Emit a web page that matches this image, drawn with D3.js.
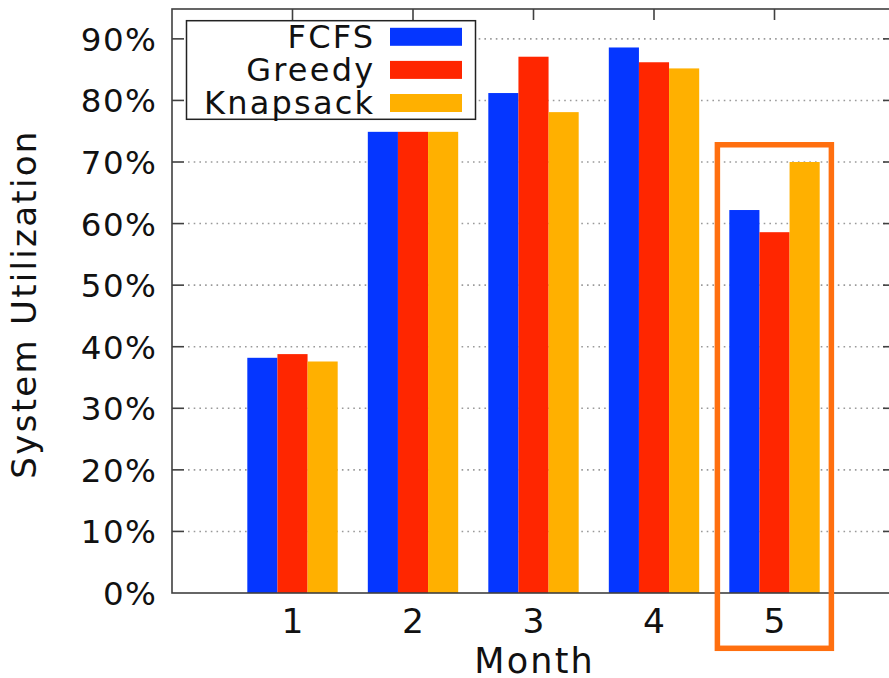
<!DOCTYPE html>
<html>
<head>
<meta charset="utf-8">
<script src="https://cdn.jsdelivr.net/npm/d3@7"></script>
<style>
  html, body { margin: 0; padding: 0; background: #fff; }
  svg { display: block; font-family: "DejaVu Sans", sans-serif; }
</style>
</head>
<body>
<svg id="chart" width="889" height="678"></svg>
<script>
// Monthly system utilization (%) per scheduling policy
const months = [1, 2, 3, 4, 5];
const seriesNames = ["FCFS", "Greedy", "Knapsack"];
const fcfs = [38.2, 74.9, 81.2, 88.6, 62.2];
const greedy = [38.8, 74.9, 87.1, 86.2, 58.6];
const knapsack = [37.6, 74.9, 78.1, 85.2, 70.0];
const yTicks = [0, 10, 20, 30, 40, 50, 60, 70, 80, 90];
const colors = ["#0536ff", "#ff2600", "#ffb000"];
const highlightMonth = 5;

const series = [fcfs, greedy, knapsack];

const svg = d3.select("#chart");
const plotL = 172, plotR = 895, plotT = 9, plotB = 593;

const x = d3.scaleLinear().domain([0, 6]).range([plotL, plotR]);
const y = d3.scaleLinear().domain([0, 94.85]).range([plotB, plotT]);
const barW = 0.25;
const frameColor = "#404040";
const textColor = "#111";

// dotted horizontal grid
svg.append("g")
  .selectAll("line")
  .data(yTicks.filter(d => d > 0))
  .join("line")
  .attr("x1", plotL + 16).attr("x2", plotR)
  .attr("y1", d => y(d)).attr("y2", d => y(d))
  .attr("stroke", "#9a9a9a")
  .attr("stroke-width", 1.6)
  .attr("stroke-dasharray", "1.6,4.1");

// bottom x ticks (sit underneath the bars)
svg.append("g")
  .selectAll("line")
  .data(months)
  .join("line")
  .attr("x1", d => x(d)).attr("x2", d => x(d))
  .attr("y1", plotB).attr("y2", plotB - 11)
  .attr("stroke", frameColor).attr("stroke-width", 1.5);

// bars
const groups = svg.append("g");
series.forEach((vals, si) => {
  groups.append("g")
    .selectAll("rect")
    .data(months.map((m, i) => ({ m, v: vals[i] })))
    .join("rect")
    .attr("x", d => x(d.m + (si - 1) * barW - barW / 2))
    .attr("width", x(barW) - x(0))
    .attr("y", d => y(d.v))
    .attr("height", d => y(0) - y(d.v))
    .attr("fill", colors[si]);
});

// frame
svg.append("rect")
  .attr("x", plotL).attr("y", plotT)
  .attr("width", plotR - plotL).attr("height", plotB - plotT)
  .attr("fill", "none")
  .attr("stroke", frameColor).attr("stroke-width", 1.6);

// y ticks (left and mirrored right, pointing inward)
const yt = svg.append("g");
yt.selectAll("line.l").data(yTicks.filter(d => d > 0)).join("line")
  .attr("class", "l")
  .attr("x1", plotL).attr("x2", plotL + 12)
  .attr("y1", d => y(d)).attr("y2", d => y(d))
  .attr("stroke", frameColor).attr("stroke-width", 1.6);
yt.selectAll("line.r").data(yTicks.filter(d => d > 0)).join("line")
  .attr("class", "r")
  .attr("x1", plotR).attr("x2", plotR - 12)
  .attr("y1", d => y(d)).attr("y2", d => y(d))
  .attr("stroke", frameColor).attr("stroke-width", 1.6);

// top mirrored x ticks
svg.append("g").selectAll("line").data(months).join("line")
  .attr("x1", d => x(d)).attr("x2", d => x(d))
  .attr("y1", plotT).attr("y2", plotT + 11)
  .attr("stroke", frameColor).attr("stroke-width", 1.6);

// y tick labels
svg.append("g").selectAll("text").data(yTicks).join("text")
  .attr("x", 157.5)
  .attr("y", d => y(d) + 12)
  .attr("text-anchor", "end")
  .attr("font-size", 32.5)
  .attr("letter-spacing", 1.5)
  .attr("fill", textColor)
  .text(d => d + "%");

// x tick labels
svg.append("g").selectAll("text").data(months).join("text")
  .attr("x", d => x(d))
  .attr("y", 633)
  .attr("text-anchor", "middle")
  .attr("font-size", 34.5)
  .attr("fill", textColor)
  .text(d => d);

// axis titles
svg.append("text")
  .attr("x", x(3) + 1.1).attr("y", 673.3)
  .attr("text-anchor", "middle")
  .attr("font-size", 35)
  .attr("letter-spacing", 2.2)
  .attr("fill", textColor)
  .text("Month");

svg.append("text")
  .attr("transform", "translate(35.5,304) rotate(-90)")
  .attr("text-anchor", "middle")
  .attr("font-size", 34)
  .attr("letter-spacing", 2.3)
  .attr("fill", textColor)
  .text("System Utilization");

// legend
const legend = svg.append("g");
legend.append("rect")
  .attr("x", 186.5).attr("y", 20.7)
  .attr("width", 289).attr("height", 98.6)
  .attr("fill", "#fff")
  .attr("stroke", "#222").attr("stroke-width", 1.5);
seriesNames.forEach((name, i) => {
  const cy = 36.8 + i * 33.1;
  legend.append("text")
    .attr("x", 375.3).attr("y", cy + 10.8)
    .attr("text-anchor", "end")
    .attr("font-size", 32)
    .attr("letter-spacing", 2.2)
    .attr("fill", textColor)
    .text(name);
  legend.append("rect")
    .attr("x", 390).attr("y", cy - 9)
    .attr("width", 72).attr("height", 18)
    .attr("fill", colors[i]);
});

// highlight box around the last month
svg.append("rect")
  .attr("x", x(highlightMonth - 0.474))
  .attr("y", y(72.8))
  .attr("width", x(0.946) - x(0))
  .attr("height", 648.3 - y(72.8))
  .attr("fill", "none")
  .attr("stroke", "#ff6f0f")
  .attr("stroke-width", 5.5);
</script>
</body>
</html>
